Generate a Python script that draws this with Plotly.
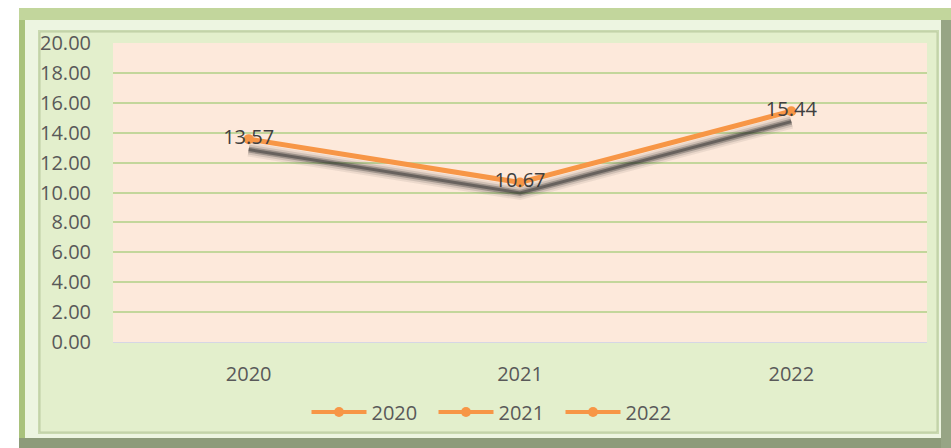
import plotly.graph_objects as go

years = ["2020", "2021", "2022"]
values = [13.57, 10.67, 15.44]
y_ticks = [0, 2, 4, 6, 8, 10, 12, 14, 16, 18, 20]
y_tick_labels = ["%.2f" % v for v in y_ticks]

ORANGE = "#F79646"
W, H = 951, 448
L, R, T, B = 113, 927, 43, 342

def px(X):
    return (X - L) / (R - L)

def py(Y):
    return (B - Y) / (B - T)

def rect(x0, y0, x1, y1, fill, line=None, lw=0):
    return dict(type="rect", xref="paper", yref="paper", layer="below",
                x0=px(x0), x1=px(x1), y0=py(y1), y1=py(y0),
                fillcolor=fill, line=dict(color=line or fill, width=lw))

shapes = [
    rect(19, 8, 951, 448, "#C2D69C"),
    rect(19, 20, 25, 448, "#A9C27C"),
    rect(19, 438, 951, 448, "#8D9B7A"),
    rect(941, 20, 951, 448, "#97A585"),
    rect(25, 20, 941, 438, "#EDF5E1"),
    rect(38, 30, 939, 434, "#C9D9B0"),
    rect(40, 32, 937, 432, "#E3EFCC", "#BDCDA2", 1),
    rect(L, T, R, B, "#FDE9DB"),
]

fig = go.Figure()

# blurred shadow (same data drawn on a hidden, slightly shifted axis)
for width, alpha in [(14, 0.08), (10, 0.14), (6, 0.30), (3, 0.45)]:
    fig.add_trace(go.Scatter(x=years, y=values, mode="lines", yaxis="y2",
                             line=dict(color="rgba(40,40,40,%.2f)" % alpha, width=width),
                             showlegend=False, hoverinfo="skip"))
# main line
fig.add_trace(go.Scatter(x=years, y=values, mode="lines",
                         line=dict(color=ORANGE, width=5),
                         showlegend=False, hoverinfo="skip"))
# per-year points (legend entries)
for yr, v in zip(years, values):
    fig.add_trace(go.Scatter(x=[yr], y=[v], mode="lines+markers+text", name=yr,
                             text=["%.2f" % v], textposition="middle center",
                             textfont=dict(family="Open Sans", size=20, color="#404040"),
                             line=dict(color=ORANGE, width=4),
                             marker=dict(color=ORANGE, size=10)))

fig.update_layout(
    width=W, height=H,
    margin=dict(l=L, r=W - R, t=T, b=H - B),
    paper_bgcolor="white",
    plot_bgcolor="#FDE9DB",
    shapes=shapes,
    font=dict(family="Open Sans", size=20, color="#595959"),
    xaxis=dict(type="category", range=[-0.5, 2.5], showgrid=False,
               showline=True, linecolor="#D6D6E4", linewidth=1,
               ticks="", tickfont=dict(size=20, color="#595959"),
               ticklabelstandoff=14, zeroline=False),
    yaxis=dict(range=[0, 20], tickvals=y_ticks, ticktext=y_tick_labels,
               showgrid=True, gridcolor="#C3D69B", gridwidth=2,
               zeroline=False, showline=False, ticks="",
               ticklabelstandoff=21, tickfont=dict(size=20, color="#595959")),
    yaxis2=dict(range=[0.7, 20.7], overlaying="y", visible=False),
    legend=dict(orientation="h", x=px(497), xanchor="center",
                y=py(412), yanchor="middle", itemwidth=55, entrywidth=57,
                font=dict(size=20, color="#595959"),
                bgcolor="rgba(0,0,0,0)"),
    showlegend=True,
)

fig.write_html("out.html")
